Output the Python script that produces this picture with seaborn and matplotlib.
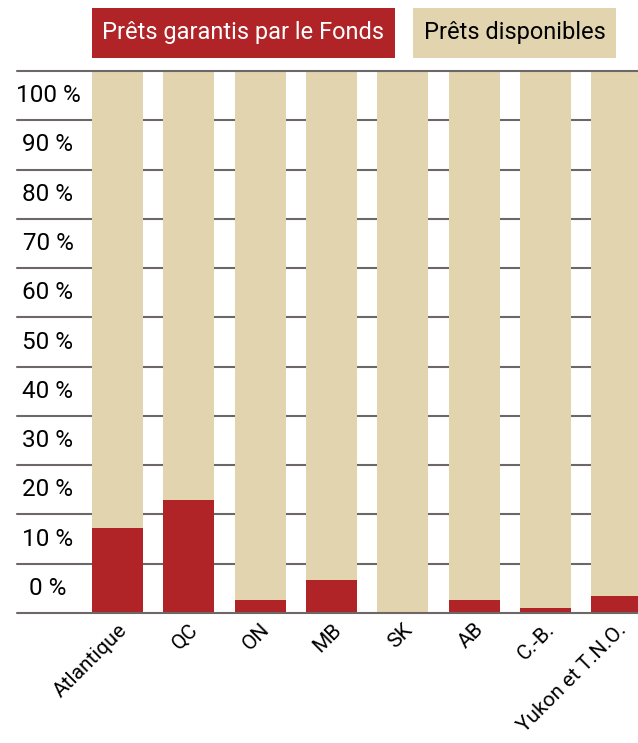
import matplotlib
matplotlib.use("Agg")
import matplotlib.pyplot as plt
from matplotlib.patches import Rectangle
import numpy as np
import pandas as pd
import seaborn as sns

# Share of loans by region (percent)
regions = ["Atlantique", "QC", "ON", "MB", "SK", "AB", "C.-B.", "Yukon et T.N.O."]
prets_garantis = [15.7, 20.8, 2.4, 6.1, 0.0, 2.4, 0.9, 3.1]
prets_disponibles = [84.3, 79.2, 97.6, 93.9, 100.0, 97.6, 99.1, 96.9]
tick_labels = ["0 %", "10 %", "20 %", "30 %", "40 %", "50 %",
               "60 %", "70 %", "80 %", "90 %", "100 %"]

legend_labels = ["Prêts garantis par le Fonds", "Prêts disponibles"]

RED = "#B02427"
BEIGE = "#E1D4AF"
GRID = "#6E6767"

sns.set_theme(style="white")
plt.rcParams["font.family"] = ["Roboto", "DejaVu Sans"]

W, H = 638, 743
fig = plt.figure(figsize=(W / 100, H / 100), dpi=100)
ax = fig.add_axes([16.7 / W, (H - 613) / H, 1 - 16.7 / W, (613 - 71) / H])

df = pd.DataFrame({
    "region": regions,
    "garantis": prets_garantis,
    "disponibles": prets_disponibles,
})
df["total"] = df["garantis"] + df["disponibles"]

bar_w = 0.715
sns.barplot(data=df, x="region", y="total", color=BEIGE, saturation=1,
            width=bar_w, ax=ax, zorder=2, linewidth=0)
sns.barplot(data=df, x="region", y="garantis", color=RED, saturation=1,
            width=bar_w, ax=ax, zorder=3, linewidth=0)

ax.set_xlim(-1.414, 7.30)
ax.set_ylim(0, 100)

# Eleven horizontal bands; each percent label sits inside its band
n_bands = len(tick_labels)
step = 100 / n_bands
for k in range(n_bands + 1):
    y = k * step
    z = 4 if k in (0, n_bands) else 1
    ax.axhline(y, color=GRID, lw=1.5, zorder=z, clip_on=False)

for k, lab in enumerate(tick_labels):
    fig.text(48 / W, (H - (613 - (k + 0.5) * 49.27)) / H, lab,
             ha="center", va="center", fontsize=17.5, color="black")

ax.set_yticks([])
ax.set_xlabel("")
ax.set_ylabel("")
ax.tick_params(axis="x", length=0, pad=5)
ax.set_xticks(range(len(regions)))
ax.set_xticklabels(regions, rotation=45, ha="right", rotation_mode="anchor",
                   fontsize=15, color="black")
for s in ax.spines.values():
    s.set_visible(False)

# Legend boxes above the plot
boxes = [(92, 395, RED, "white"), (413, 616, BEIGE, "black")]
for (x0, x1, fc, tc), lab in zip(boxes, legend_labels):
    fig.patches.append(Rectangle((x0 / W, (H - 58) / H), (x1 - x0) / W, 50 / H,
                                 transform=fig.transFigure, facecolor=fc,
                                 edgecolor="none"))
    fig.text((x0 + x1) / 2 / W, (H - 33) / H, lab, ha="center", va="center",
             fontsize=17, color=tc)

fig.savefig("out.png", dpi=100)
